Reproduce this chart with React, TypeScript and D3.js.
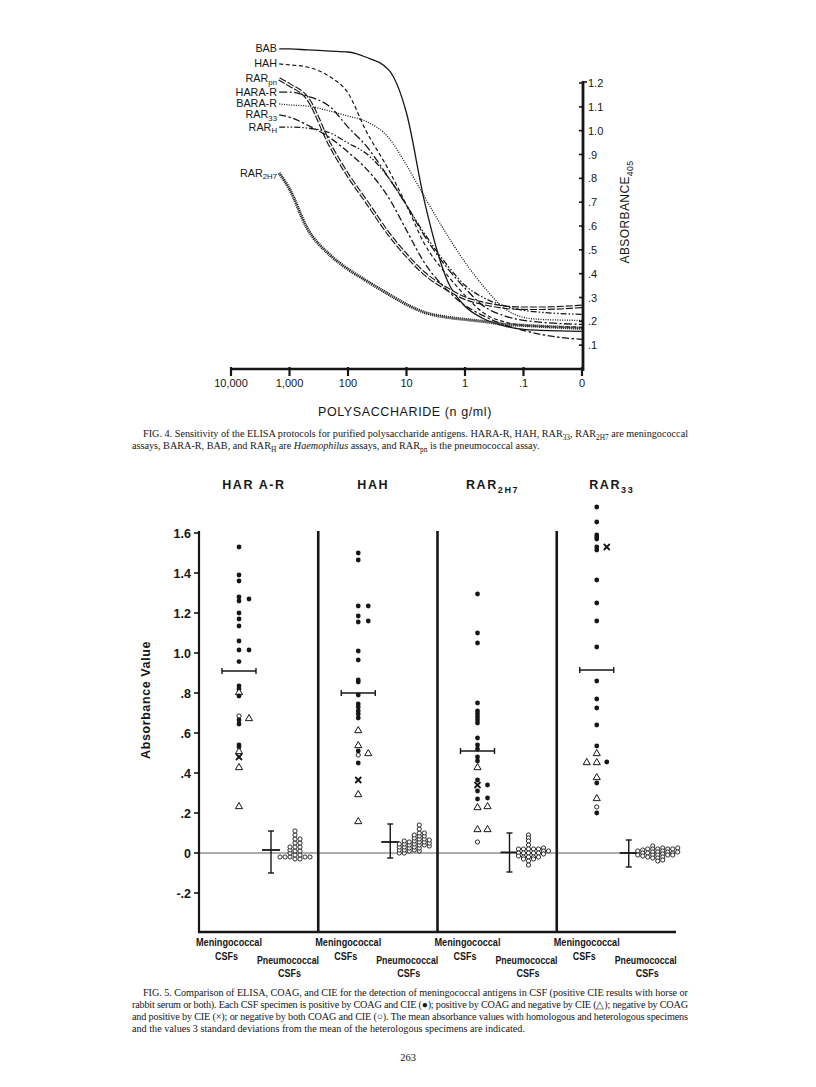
import React from 'react';
import * as d3 from 'd3';

// ---------- FIG. 4 data: absorbance (405 nm) vs polysaccharide (ng/ml) ----------
const CONC = [1500, 1000, 500, 200, 100, 50, 20, 10, 5, 2, 1, 0.5, 0.2, 0.1, 0.05, 0];
const BAB = [1.343, 1.343, 1.339, 1.334, 1.33, 1.309, 1.254, 1.074, 0.71, 0.37, 0.263, 0.213, 0.179, 0.166, 0.162, 0.158];
const HAH = [1.28, 1.276, 1.267, 1.225, 1.158, 1.003, 0.834, 0.687, 0.528, 0.393, 0.309, 0.238, 0.196, 0.183, 0.179, 0.175];
const RAR_PN = [1.217, 1.192, 1.138, 0.937, 0.813, 0.707, 0.566, 0.477, 0.402, 0.335, 0.297, 0.276, 0.259, 0.255, 0.255, 0.263];
const HARA_R = [1.162, 1.162, 1.145, 1.099, 1.015, 0.939, 0.801, 0.687, 0.561, 0.423, 0.339, 0.267, 0.221, 0.204, 0.196, 0.187];
const BARA_R = [1.112, 1.108, 1.103, 1.082, 1.061, 1.04, 0.969, 0.855, 0.725, 0.561, 0.448, 0.351, 0.25, 0.217, 0.208, 0.204];
const RAR_33 = [1.066, 1.057, 1.024, 0.969, 0.91, 0.843, 0.717, 0.582, 0.448, 0.33, 0.267, 0.225, 0.183, 0.162, 0.145, 0.124];
const RAR_H = [1.015, 1.015, 1.011, 0.99, 0.948, 0.906, 0.801, 0.687, 0.57, 0.435, 0.351, 0.301, 0.263, 0.246, 0.238, 0.229];
const RAR_2H7 = [0.822, 0.755, 0.591, 0.477, 0.419, 0.372, 0.313, 0.271, 0.238, 0.217, 0.208, 0.2, 0.187, 0.183, 0.179, 0.171];

const CURVES = [
  { base: 'BAB', sub: '', values: BAB, style: 'solid' },
  { base: 'HAH', sub: '', values: HAH, style: 'dash' },
  { base: 'RAR', sub: 'pn', values: RAR_PN, style: 'hollow' },
  { base: 'HARA-R', sub: '', values: HARA_R, style: 'dashdot' },
  { base: 'BARA-R', sub: '', values: BARA_R, style: 'dot' },
  { base: 'RAR', sub: '33', values: RAR_33, style: 'longdash' },
  { base: 'RAR', sub: 'H', values: RAR_H, style: 'dashdotdot' },
  { base: 'RAR', sub: '2H7', values: RAR_2H7, style: 'hatch' },
];

const X4_TICKS = [10000, 1000, 100, 10, 1, 0.1, 0];
const X4_LABELS = ['10,000', '1,000', '100', '10', '1', '.1', '0'];
const Y4_TICKS = [0.1, 0.2, 0.3, 0.4, 0.5, 0.6, 0.7, 0.8, 0.9, 1.0, 1.1, 1.2];

// ---------- FIG. 5 data ----------
const PANELS = ['HAR A-R', 'HAH', 'RAR2H7', 'RAR33'];
const PANEL_SUBS = ['', '', '2H7', '33'];
const PANEL_BASES = ['HAR A-R', 'HAH', 'RAR', 'RAR'];

// [absorbance, symbol, column]  f=COAG+CIE+, t=COAG+CIE-, x=COAG-CIE+, o=both negative
const MEN_HARA: [number, string, number][] = [
  [1.53, 'f', 0], [1.39, 'f', 0], [1.36, 'f', 0], [1.28, 'f', 0], [1.26, 'f', 0], [1.2, 'f', 0], [1.17, 'f', 0],
  [1.135, 'f', 0], [1.06, 'f', 0], [1.015, 'f', 0], [0.957, 'f', 0], [0.835, 'f', 0], [0.82, 'f', 0], [0.805, 't', 0],
  [0.785, 'f', 0], [0.685, 'o', 0], [0.665, 'f', 0], [0.645, 'f', 0], [0.54, 'f', 0], [0.53, 'f', 0], [0.51, 't', 0],
  [0.48, 'x', 0], [0.43, 't', 0], [0.235, 't', 0],
  [1.27, 'f', 1], [1.015, 'f', 1], [0.675, 't', 1],
];
const MEN_HAH: [number, string, number][] = [
  [1.5, 'f', 0], [1.465, 'f', 0], [1.235, 'f', 0], [1.185, 'f', 0], [1.155, 'f', 0], [1.01, 'f', 0], [0.965, 'f', 0],
  [0.865, 'f', 0], [0.855, 'f', 0], [0.79, 'f', 0], [0.745, 'f', 0], [0.73, 'f', 0], [0.71, 'f', 0], [0.695, 'f', 0],
  [0.675, 'f', 0], [0.615, 't', 0], [0.54, 't', 0], [0.51, 'f', 0], [0.49, 'o', 0], [0.45, 'f', 0], [0.365, 'x', 0],
  [0.295, 't', 0], [0.16, 't', 0],
  [1.235, 'f', 1], [1.16, 'f', 1], [0.5, 't', 1],
];
const MEN_2H7: [number, string, number][] = [
  [1.295, 'f', 0], [1.1, 'f', 0], [1.05, 'f', 0], [0.75, 'f', 0], [0.71, 'f', 0], [0.695, 'f', 0], [0.68, 'f', 0],
  [0.665, 'f', 0], [0.65, 'f', 0], [0.575, 'f', 0], [0.54, 'f', 0], [0.52, 'f', 0], [0.48, 'f', 0], [0.46, 'f', 0],
  [0.43, 't', 0], [0.365, 'f', 0], [0.34, 'x', 0], [0.31, 'f', 0], [0.27, 'f', 0], [0.23, 't', 0], [0.12, 't', 0],
  [0.055, 'o', 0],
  [0.34, 'f', 1], [0.275, 'f', 1], [0.235, 't', 1], [0.12, 't', 1],
];
const MEN_33: [number, string, number][] = [
  [1.73, 'f', 0], [1.655, 'f', 0], [1.59, 'f', 0], [1.58, 'f', 0], [1.57, 'f', 0], [1.53, 'f', 0], [1.515, 'f', 0],
  [1.365, 'f', 0], [1.25, 'f', 0], [1.16, 'f', 0], [1.03, 'f', 0], [0.86, 'f', 0], [0.77, 'f', 0], [0.725, 'f', 0],
  [0.64, 'f', 0], [0.535, 'f', 0], [0.5, 't', 0], [0.455, 't', 0], [0.38, 't', 0], [0.35, 'f', 0], [0.275, 't', 0],
  [0.23, 'o', 0], [0.2, 'f', 0],
  [0.455, 't', -1], [1.53, 'x', 1], [0.455, 'f', 1],
];
const MENINGO = [MEN_HARA, MEN_HAH, MEN_2H7, MEN_33];
const MENINGO_MEAN = [0.91, 0.8, 0.51, 0.915];

// pneumococcal (heterologous) specimens, stacked in columns
const PN_HARA = [[-0.02], [-0.02], [-0.02, 0.0, 0.015, 0.03], [-0.03, -0.01, 0.01, 0.03, 0.05, 0.07, 0.09, 0.11],
  [-0.03, -0.01, 0.01, 0.03, 0.05, 0.07], [-0.02], [-0.02]];
const PN_HAH = [[0.0, 0.015, 0.03, 0.045], [0.0, 0.015, 0.03, 0.045, 0.06], [0.01, 0.025, 0.04, 0.055],
  [0.015, 0.03, 0.045, 0.06, 0.075, 0.09], [0.01, 0.025, 0.04, 0.055, 0.07, 0.085, 0.1, 0.12, 0.14],
  [0.04, 0.055, 0.07, 0.085, 0.1], [0.035, 0.05, 0.065]];
const PN_2H7 = [[0.02, 0.0, -0.015], [0.02, 0.0, -0.02, -0.03], [0.09, 0.075, 0.06, 0.04, 0.02, 0.0, -0.02, -0.04, -0.06],
  [0.02, 0.0, -0.02, -0.03], [0.02, 0.0, -0.02], [0.025, 0.01, -0.005], [0.01]];
const PN_33 = [[0.01, -0.01], [0.015, 0.0, -0.015], [0.02, 0.0, -0.02], [0.035, 0.02, 0.005, -0.01, -0.025],
  [0.02, 0.005, -0.01, -0.025, -0.04], [0.025, 0.01, -0.005, -0.02, -0.035], [0.02, 0.005, -0.01],
  [0.02, 0.0, -0.01], [0.025, 0.005]];
const PNEUMO = [PN_HARA, PN_HAH, PN_2H7, PN_33];
const PNEUMO_MEAN = [0.015, 0.055, 0.003, 0.0];
const PNEUMO_HI = [0.11, 0.145, 0.1, 0.065];
const PNEUMO_LO = [-0.1, -0.025, -0.095, -0.07];

const Y5_TICKS = [-0.2, 0, 0.2, 0.4, 0.6, 0.8, 1.0, 1.2, 1.4, 1.6];

// ---------- captions ----------
type Seg = [string, string];
const CAP4: Seg[][] = [
  [['FIG. 4. Sensitivity of the ELISA protocols for purified polysaccharide antigens. HARA-R, HAH, RAR', ''], ['33', 'sub'], [', RAR', ''], ['2H7', 'sub'], [' are meningococcal', '']],
  [['assays, BARA-R, BAB, and RAR', ''], ['H', 'sub'], [' are ', ''], ['Haemophilus', 'i'], [' assays, and RAR', ''], ['pn', 'sub'], [' is the pneumococcal assay.', '']],
];
const CAP5: Seg[][] = [
  [['FIG. 5. Comparison of ELISA, COAG, and CIE for the detection of meningococcal antigens in CSF (positive CIE results with horse or', '']],
  [['rabbit serum or both). Each CSF specimen is positive by COAG and CIE (●); positive by COAG and negative by CIE (△); negative by COAG', '']],
  [['and positive by CIE (×); or negative by both COAG and CIE (○). The mean absorbance values with homologous and heterologous specimens', '']],
  [['and the values 3 standard deviations from the mean of the heterologous specimens are indicated.', '']],
];

const INK = '#161616';
const SANS = '"Liberation Sans", Arial, sans-serif';
const SERIF = '"Liberation Serif", "Times New Roman", serif';

const STYLE: Record<string, any> = {
  solid: { w: 1.3 },
  dash: { w: 1.2, dash: '4 2.6' },
  dashdot: { w: 1.3, dash: '8 2.5 2 2.5' },
  dot: { w: 1.3, dash: '1 1.4' },
  longdash: { w: 1.3, dash: '7 2.5 2.5 2.5' },
  dashdotdot: { w: 1.3, dash: '6 2 1.5 2 1.5 2' },
};

function Segs({ segs, size, shift = 0.3 }: { segs: Seg[]; size: number; shift?: number }) {
  let shifted = false;
  return (
    <>
      {segs.map(([t, k], i) => {
        if (k === 'sub') {
          shifted = true;
          return <tspan key={i} dy={size * shift} fontSize={size * 0.72}>{t}</tspan>;
        }
        const dy = shifted ? -size * shift : 0;
        shifted = false;
        return <tspan key={i} dy={dy} fontStyle={k === 'i' ? 'italic' : undefined}>{t}</tspan>;
      })}
    </>
  );
}

function Fig4() {
  const x = d3.scaleLog().domain([10000, 0.01]).range([231, 582]);
  const xc = (c: number) => x(c === 0 ? 0.01 : c);
  const y = d3.scaleLinear().domain([0, 1.2]).range([369, 83]);
  const line = d3.line<[number, number]>().x(d => xc(d[0])).y(d => y(d[1])).curve(d3.curveMonotoneX);

  return (
    <g>
      {CURVES.map((c) => {
        const pts = CONC.map((k, i) => [k, c.values[i]] as [number, number]);
        const d = line(pts) || '';
        let path;
        if (c.style === 'hollow') {
          path = (
            <g fill="none">
              <path d={d} stroke={INK} strokeWidth={3.6} strokeDasharray="7 2" />
              <path d={d} stroke="#fff" strokeWidth={1.3} strokeDasharray="7 2" />
            </g>
          );
        } else if (c.style === 'hatch') {
          path = (
            <g fill="none">
              <path d={d} stroke={INK} strokeWidth={3.2} strokeDasharray="1.1 0.9" />
              <path d={d} stroke="#555" strokeWidth={0.7} />
            </g>
          );
        } else {
          const s = STYLE[c.style];
          path = <path d={d} fill="none" stroke={INK} strokeWidth={s.w} strokeDasharray={s.dash} />;
        }
        const ly = y(c.values[0]);
        return (
          <g key={c.base + c.sub}>
            {path}
            <text x={277} y={ly + 3.5} textAnchor="end" fontFamily={SANS} fontSize={10.8} fill={INK}>
              <Segs segs={c.sub ? [[c.base, ''], [c.sub, 'sub']] : [[c.base, '']]} size={10.8} shift={0.25} />
            </text>
          </g>
        );
      })}

      {/* x axis */}
      <line x1={230} x2={583} y1={369} y2={369} stroke={INK} strokeWidth={2.6} />
      {X4_TICKS.map((t, i) => (
        <g key={t}>
          <line x1={xc(t)} x2={xc(t)} y1={367} y2={376} stroke={INK} strokeWidth={2.2} />
          <text x={xc(t)} y={387} textAnchor="middle" fontFamily={SANS} fontSize={11} fill={INK}>{X4_LABELS[i]}</text>
        </g>
      ))}
      <text x={405} y={416} textAnchor="middle" fontFamily={SANS} fontSize={12.5} letterSpacing={0.6} fill={INK}>
        POLYSACCHARIDE (n g/ml)
      </text>

      {/* y axis (right) */}
      <line x1={583} x2={583} y1={81} y2={371} stroke={INK} strokeWidth={2.8} />
      <line x1={583} x2={587} y1={82} y2={82} stroke={INK} strokeWidth={1.6} />
      {Y4_TICKS.map((t) => (
        <g key={t}>
          <line x1={579} x2={583} y1={y(t)} y2={y(t)} stroke={INK} strokeWidth={1.6} />
          <text x={588} y={y(t) + 4} fontFamily={SANS} fontSize={11} fill={INK}>
            {t >= 1 ? t.toFixed(1) : '.' + Math.round(t * 10)}
          </text>
        </g>
      ))}
      <text transform="translate(629,212) rotate(-90)" textAnchor="middle" fontFamily={SANS} fontSize={12} letterSpacing={0.4} fill={INK}>
        <Segs segs={[['ABSORBANCE', ''], ['405', 'sub']]} size={12} />
      </text>
    </g>
  );
}

const triPath = d3.symbol(d3.symbolTriangle, 22)() || '';

function Mark({ cx, cy, s }: { cx: number; cy: number; s: string }) {
  if (s === 'f') return <circle cx={cx} cy={cy} r={2.4} fill={INK} />;
  if (s === 'o') return <circle cx={cx} cy={cy} r={2.1} fill="#fff" stroke={INK} strokeWidth={0.9} />;
  if (s === 't') return <path d={triPath} transform={`translate(${cx},${cy + 0.6})`} fill="#fff" stroke={INK} strokeWidth={1} />;
  return (
    <g stroke={INK} strokeWidth={1.8}>
      <line x1={cx - 3} x2={cx + 3} y1={cy - 3} y2={cy + 3} />
      <line x1={cx - 3} x2={cx + 3} y1={cy + 3} y2={cy - 3} />
    </g>
  );
}

function Fig5() {
  const band = d3.scaleBand().domain(PANELS).range([199, 676]);
  const y = d3.scaleLinear().domain([-0.395, 1.6]).range([932, 533]);
  const left = 199, right = 676, top = 531, bottom = 932;

  return (
    <g>
      {/* zero line */}
      <line x1={left} x2={right} y1={y(0)} y2={y(0)} stroke="#333" strokeWidth={0.8} />

      {PANELS.map((p, pi) => {
        const px = band(p) as number;
        const mx = px + 40;
        const sx = px + 72;
        return (
          <g key={p}>
            <text x={px + 55} y={489} textAnchor="middle" fontFamily={SANS} fontSize={12.5} fontWeight="bold" letterSpacing={1.6} fill={INK}>
              <Segs segs={PANEL_SUBS[pi] ? [[PANEL_BASES[pi], ''], [PANEL_SUBS[pi], 'sub']] : [[PANEL_BASES[pi], '']]} size={12.5} />
            </text>

            {/* meningococcal mean */}
            <g stroke={INK} strokeWidth={1.4}>
              <line x1={mx - 17} x2={mx + 17} y1={y(MENINGO_MEAN[pi])} y2={y(MENINGO_MEAN[pi])} />
              <line x1={mx - 17} x2={mx - 17} y1={y(MENINGO_MEAN[pi]) - 3} y2={y(MENINGO_MEAN[pi]) + 3} />
              <line x1={mx + 17} x2={mx + 17} y1={y(MENINGO_MEAN[pi]) - 3} y2={y(MENINGO_MEAN[pi]) + 3} />
            </g>
            {MENINGO[pi].map(([v, s, c], i) => (
              <Mark key={i} cx={mx + c * 10} cy={y(v)} s={s} />
            ))}

            {/* pneumococcal mean and 3 SD */}
            <g stroke={INK} strokeWidth={1.4}>
              <line x1={sx} x2={sx} y1={y(PNEUMO_HI[pi])} y2={y(PNEUMO_LO[pi])} />
              <line x1={sx - 3} x2={sx + 3} y1={y(PNEUMO_HI[pi])} y2={y(PNEUMO_HI[pi])} />
              <line x1={sx - 3} x2={sx + 3} y1={y(PNEUMO_LO[pi])} y2={y(PNEUMO_LO[pi])} />
              <line x1={sx - 9} x2={sx + 9} y1={y(PNEUMO_MEAN[pi])} y2={y(PNEUMO_MEAN[pi])} strokeWidth={1.8} />
            </g>
            {PNEUMO[pi].map((col, ci) =>
              col.map((v, k) => <Mark key={ci + '-' + k} cx={sx + 9 + ci * 5} cy={y(v)} s="o" />)
            )}

            {/* x labels (condensed) */}
            <g fontFamily={SANS} fontWeight="bold" fontSize={10.5} fill={INK}>
              <text x={px - 3} y={946} textLength={66} lengthAdjust="spacingAndGlyphs">Meningococcal</text>
              <text x={px + 16} y={960} textLength={23} lengthAdjust="spacingAndGlyphs">CSFs</text>
              <text x={px + 58} y={964} textLength={62} lengthAdjust="spacingAndGlyphs">Pneumococcal</text>
              <text x={px + 79} y={977} textLength={23} lengthAdjust="spacingAndGlyphs">CSFs</text>
            </g>

            {pi > 0 && <line x1={px} x2={px} y1={top} y2={bottom} stroke={INK} strokeWidth={2.6} />}
          </g>
        );
      })}

      {/* y axis */}
      <line x1={left} x2={left} y1={top} y2={bottom + 1} stroke={INK} strokeWidth={2.2} />
      <line x1={left - 1} x2={right} y1={bottom} y2={bottom} stroke={INK} strokeWidth={2.4} />
      {Y5_TICKS.map((t) => (
        <g key={t}>
          <line x1={left - 5} x2={left} y1={y(t)} y2={y(t)} stroke={INK} strokeWidth={1.6} />
          <text x={191} y={y(t) + 4.5} textAnchor="end" fontFamily={SANS} fontSize={12.5} fontWeight="bold" fill={INK}>
            {t === 0 ? '0' : t < 0 ? '-.' + Math.round(-t * 10) : t >= 1 ? t.toFixed(1) : '.' + Math.round(t * 10)}
          </text>
        </g>
      ))}
      <text transform="translate(150,700) rotate(-90)" textAnchor="middle" fontFamily={SANS} fontSize={12.5} fontWeight="bold" letterSpacing={0.6} fill={INK}>
        Absorbance Value
      </text>
    </g>
  );
}

function Caption({ lines, top, justify }: { lines: Seg[][]; top: number; justify: boolean[] }) {
  return (
    <g fontFamily={SERIF} fontSize={10.2} fill={INK}>
      {lines.map((segs, i) => {
        const x0 = i === 0 ? 143 : 132;
        return (
          <text key={i} x={x0} y={top + i * 12} textLength={justify[i] ? 688 - x0 : undefined} lengthAdjust="spacing">
            <Segs segs={segs} size={10.2} />
          </text>
        );
      })}
    </g>
  );
}

export default function App() {
  return (
    <svg width={816} height={1087} viewBox="0 0 816 1087" style={{ position: 'absolute', left: 0, top: 0, background: '#fff' }}>
      <rect width={816} height={1087} fill="#fff" />
      <Fig4 />
      <Caption lines={CAP4} top={437} justify={[true, false]} />
      <Fig5 />
      <Caption lines={CAP5} top={996} justify={[true, true, true, false]} />
      <text x={408} y={1061} textAnchor="middle" fontFamily={SERIF} fontSize={10.5} fill={INK}>263</text>
    </svg>
  );
}
